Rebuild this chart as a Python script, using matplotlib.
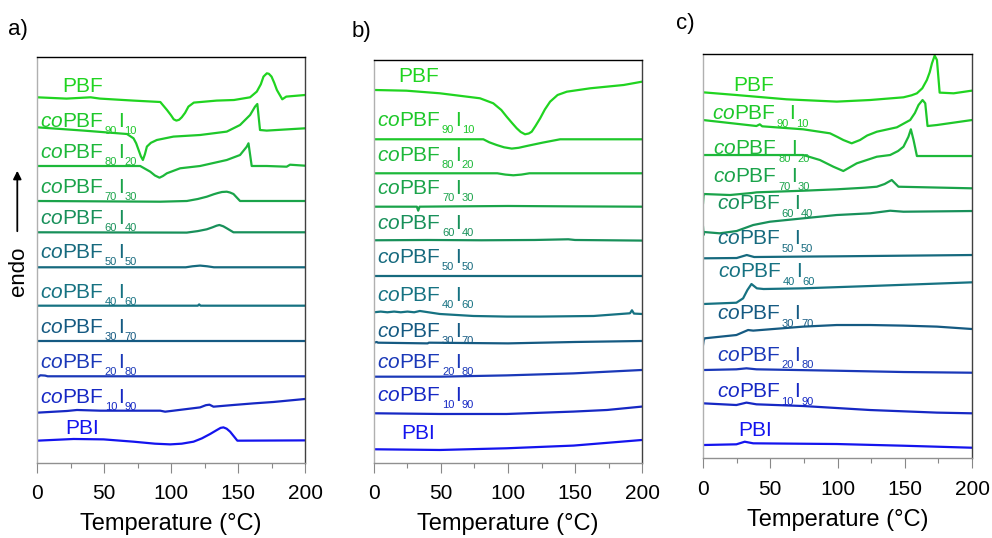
import matplotlib
matplotlib.use('Agg')
import matplotlib.pyplot as plt
from matplotlib.ticker import MultipleLocator

plt.rcParams['font.family'] = ['Liberation Sans', 'DejaVu Sans']
plt.rcParams['mathtext.fontset'] = 'custom'
plt.rcParams['mathtext.rm'] = 'Liberation Sans'
plt.rcParams['mathtext.it'] = 'Liberation Sans:italic'

# sample names, top to bottom
samples = ['PBF', '90/10', '80/20', '70/30', '60/40', '50/50',
           '40/60', '30/70', '20/80', '10/90', 'PBI']
colors = ['#20d420', '#1ec82a', '#1db83a', '#1aa34a', '#18905a', '#166a7e',
          '#167282', '#155a82', '#1a38b8', '#1628c4', '#1414ee']

# ---- panel a) : (temperature, heat flow) per sample, plus vertical offsets ----
a_curves = [
    ([0, 22, 40, 47, 72, 92, 97, 100, 102, 104, 106, 108, 110.5, 113, 117, 134, 147, 159, 164, 167, 169, 171.5, 173, 175, 177, 179, 183, 186, 200],
     [0, -1.3, 0, -1.3, -3.3, -4.7, -12.7, -18, -22, -23.3, -22.5, -20, -15.5, -9.3, -5.3, -3.3, -2.7, 0, 5.7, 13, 20.7, 24, 23.5, 20.7, 14.5, 7.3, -2, 0.7, 2.3]),
    ([0, 34.8, 67.1, 72, 74, 75.8, 77.5, 79, 80.5, 82, 85, 89.4, 101.8, 121.7, 141.6, 151.5, 159, 162.7, 164.4, 166.4, 171.4, 200],
     [0, -3.3, -6.7, -11, -16, -22.7, -29, -32.7, -27, -19.3, -15.5, -12.7, -9.3, -7.7, -4.3, 2.3, 12.3, 20.7, 23.3, -2.7, -3.3, -1]),
    ([0, 77, 84.5, 88, 91.4, 94, 96.9, 106.8, 121.7, 141.6, 151.5, 156.5, 157.8, 160.2, 171.4, 186.3, 188.8, 200],
     [0, 0, -5.7, -9.5, -11.7, -10, -7.3, -2.3, 0, 6, 11, 19.3, 22.7, 0, 0, -0.7, 1.3, 0.3]),
    ([0, 92, 111.8, 120, 126.7, 132, 135, 138, 141.6, 144, 146.6, 151.5, 200],
     [0, -0.7, 0, 2, 4.3, 6.8, 8, 9, 9.3, 8.5, 7, 0, 0]),
    ([0, 111.8, 120, 126.7, 131, 134, 136.1, 139, 141.6, 146.6, 200],
     [0, -0.3, 1.2, 3, 5, 6.6, 7.3, 6, 4, 0, 0]),
    ([0, 111, 116, 121.7, 127, 132, 200], [0, 0, 1, 1.7, 1, 0, 0]),
    ([0, 120, 121, 122, 200], [0, 0, 1.3, 0, 0]),
    ([0, 200], [0, 0]),
    ([0, 0.5, 2.5, 6, 8, 200], [0, -1, 1, 0.7, 0, 0]),
    ([0, 22.4, 29.8, 47.2, 91.9, 95.6, 101.8, 121.7, 126, 128.7, 131.7, 146.6, 161.5, 176.4, 200],
     [0, 1.7, 2.7, 2, 2, 1, 2, 5.3, 7.5, 8, 6, 7.7, 9.3, 10.7, 13.7]),
    ([0, 27.3, 49.7, 72, 88, 99.4, 108, 116.8, 123, 129.2, 134, 137, 139.1, 141.5, 144.1, 149.5, 200],
     [0, 1.7, 1.3, -1, -3, -3.7, -3, -1, 2.3, 6.7, 10.5, 12.8, 13.3, 12, 9, 0, 0.3]),
]
a_offsets = [365.4, 335.4, 296.7, 261.7, 230.4, 195.4, 157, 121.7, 86.4, 50, 22]
a_label_x = [18.7, 2.2, 2.2, 2.2, 2.2, 2.2, 2.2, 2.2, 2.2, 2.2, 20.9]
a_label_y = [371, 335.5, 305, 269.5, 238.5, 204.5, 165, 130, 95, 60, 29]

# ---- panel b) ----
b_curves = [
    ([0, 24.2, 49.1, 79.1, 89, 95, 99, 103, 106.5, 109.5, 112.7, 115.5, 117.7, 120.5, 124, 127.5, 131.4, 137, 143.9, 161.4, 186.3, 200],
     [0, -0.7, -3.3, -8.3, -13.3, -20, -26.7, -33, -38.3, -42, -44.3, -43.5, -41.7, -36, -28.3, -19.5, -11.7, -5, -1.7, 1.7, 5, 8.3]),
    ([0, 81.6, 86, 91.5, 97, 102.8, 108, 114, 126, 138.9, 200],
     [0, 0, -3, -5.7, -8, -9.3, -8.5, -6.7, -3.3, 0, 0]),
    ([0, 92, 98, 104, 110, 116, 200], [0, 0, -1.3, -2, -1.3, 0, 0]),
    ([0, 32, 33, 34, 60, 100, 150, 200], [0, 0, -4, 0, 0.3, 0.7, 0.3, 0]),
    ([0, 40, 80, 120, 145, 150, 200], [0, 0.3, 0, 0.3, 1, 0.3, -0.3]),
    ([0, 200], [0, 0]),
    ([0, 5, 10, 15, 20, 25, 30, 34.2, 49.1, 74.1, 99, 124, 163.9, 191, 192.5, 194, 200],
     [0, 0.7, 0, 0.7, 0, 0.7, 0, 1.3, -1.7, -3.7, -4.3, -4.3, -3.7, -1, 2, -1.3, -1.7]),
    ([0, 2, 3, 40, 41, 100, 150, 200], [0, 0.7, 0, -0.7, 0, -0.7, 0.7, 1.7]),
    ([0, 49.1, 99, 148.9, 200], [0, 0, 1.3, 3.3, 6.7]),
    ([0, 49.1, 99, 148.9, 173.9, 200], [0, -0.7, -0.7, 1.7, 3.3, 6.7]),
    ([0, 49.1, 99, 148.9, 200], [0, -0.7, 1, 3.7, 9.3]),
]
b_offsets = [372.7, 323.4, 289.4, 256, 222.4, 186.7, 150.4, 120, 86, 49.4, 13.4]
b_label_x = [17.9, 2.5, 2.5, 2.5, 2.5, 2.5, 2.5, 2.5, 2.5, 2.5, 20.7]
b_label_y = [381, 337, 302, 268.5, 234, 200, 162, 126, 95, 62, 23.5]

# ---- panel c) ----
c_curves = [
    ([0, 24.8, 62.1, 99.4, 124.2, 149, 155, 159, 163, 166.4, 168.5, 170.2, 172.2, 173.9, 175.9, 186.3, 200],
     [0, -2.7, -7, -9.3, -7.7, -5, -3, -1, 4, 12.3, 20, 29, 36.7, 32.3, -0.3, -1, 1.7]),
    ([0, 39.7, 42.2, 44, 74.5, 94.4, 100, 104.3, 110.5, 116.7, 122, 129.2, 144.1, 154, 157.5, 160.2, 163.2, 165.2, 166.9, 173.9, 200],
     [0, -6, -4.3, -6.3, -9.3, -13.3, -17, -20, -23.3, -20, -15.5, -11.7, -7.3, 0, 7, 15, 20, 16.7, -6, -5, 0]),
    ([0, 74.5, 86.9, 96.9, 104.3, 114.3, 129.2, 139.1, 145, 149, 152.7, 154.5, 156.5, 159, 200],
     [0, 0, -5, -11.7, -16, -8.3, -1.7, 0, 4, 8.3, 18.3, 25.7, 15, -1, -1]),
    ([0, 0.4, 0.8, 20, 36, 40, 74.5, 99.4, 120, 129.2, 135, 140.3, 145.3, 200],
     [-8, 0, 1, 0, 2, 2.7, 4.3, 5.7, 7.3, 8.3, 11, 15, 8.3, 6.7]),
    ([0, 0.4, 0.8, 12.4, 25, 37.3, 49.7, 74.5, 99.4, 124.2, 139.1, 149, 200],
     [5, -3, 0, -1.3, 1, 7, 10.3, 13.7, 17, 18.7, 21.3, 20.3, 21]),
    ([0, 25, 32.5, 38, 100, 200], [0, 0.3, 3.3, 1.3, 2, 3.3]),
    ([0, 24.8, 29.8, 33, 36, 40, 45, 74.5, 124.2, 200],
     [0, 1.3, 5.7, 14, 20, 15.7, 15, 15.7, 18, 21.7]),
    ([0, 0.5, 1.2, 24.8, 33.5, 37.3, 74.5, 99.4, 124.2, 149, 173.9, 200],
     [-6.7, -2, 0, 3.3, 8.3, 7.7, 11.7, 13.3, 13.3, 12.7, 11.7, 9.3]),
    ([0, 24.8, 32.3, 39.7, 99.4, 149, 200], [0, 0.7, 1.7, 0.7, -0.7, -2, -2.7]),
    ([0, 24.8, 32.3, 39.7, 74.5, 124.2, 173.9, 200], [0, -1.7, 0.7, -1, -2.7, -6.7, -9.3, -10]),
    ([0, 24.8, 31, 37.3, 99.4, 149, 200], [0, 0.7, 3.3, 1.7, 1, -0.7, -2.7]),
]
c_offsets = [366, 338.3, 303.3, 263.3, 226.3, 200, 154.3, 120, 88.3, 55, 13.3]
c_label_x = [22.5, 6.5, 7.7, 7.7, 10.2, 10.2, 11.4, 10.2, 10.2, 10.2, 26.3]
c_label_y = [367.5, 339, 304, 276, 249, 214, 181, 139, 97.5, 61, 22.5]


def draw_label(ax, x, y, name, color):
    if '/' not in name:
        ax.text(x, y, name, fontsize=15, color=color, va='baseline')
        return
    f, i = name.split('/')
    first = ax.text(x, y, r'$\mathit{co}$PBF', fontsize=15, color=color, va='baseline')
    prev = first
    for s, sub in [(f, True), ('I', False), (i, True)]:
        prev = ax.annotate(s, xy=(1, 0), xycoords=(prev, first),
                           xytext=(0.6, -3.8 if sub else 0),
                           textcoords='offset points', va='bottom', ha='left',
                           fontsize=8 if sub else 15, color=color)


fig = plt.figure(figsize=(9.92, 5.38), dpi=100)

panels = [
    ('a)', [0.0373, 0.140, 0.2702, 0.7546], 406, a_curves, a_offsets, a_label_x, a_label_y, (8, 30)),
    ('b)', [0.3770, 0.140, 0.2702, 0.7485], 402.7, b_curves, b_offsets, b_label_x, b_label_y, (352, 32)),
    ('c)', [0.7087, 0.1481, 0.2712, 0.7515], 404.3, c_curves, c_offsets, c_label_x, c_label_y, (676, 23)),
]

for tag, rect, top, curves, offs, lx, ly, tagpos in panels:
    ax = fig.add_axes(rect)
    for (T, q), off, col in zip(curves, offs, colors):
        ax.plot(T, [off + v for v in q], color=col, lw=1.6, solid_joinstyle='round')
    for name, x, y, col in zip(samples, lx, ly, colors):
        draw_label(ax, x, y, name, col)
    ax.set_xlim(0, 200)
    ax.set_ylim(0, top)
    ax.set_yticks([])
    ax.xaxis.set_major_locator(MultipleLocator(50))
    ax.xaxis.set_minor_locator(MultipleLocator(25))
    ax.tick_params(axis='x', which='major', length=7, width=0.8, color='#888888',
                   labelsize=15, pad=8.5)
    ax.tick_params(axis='x', which='minor', length=3.5, width=0.8, color='#888888')
    ax.spines['left'].set_color('#b0b0b0')
    ax.spines['bottom'].set_color('#909090')
    ax.spines['right'].set_color('#404040')
    ax.spines['top'].set_color('black')
    for sp in ax.spines.values():
        sp.set_linewidth(1.0)
    ax.set_xlabel('Temperature (°C)', fontsize=17, labelpad=7)
    fig.text(tagpos[0] / 992, 1 - tagpos[1] / 538, tag, fontsize=16, va='center', ha='left')

# endo arrow
fig.text(18.5 / 992, 1 - 271 / 538, 'endo', rotation=90, fontsize=16, va='center', ha='center')
fig.add_artist(matplotlib.patches.FancyArrowPatch(
    (17.3 / 992, 1 - 234 / 538), (17.3 / 992, 1 - 168 / 538),
    transform=fig.transFigure, arrowstyle='-|>', mutation_scale=12, color='black', lw=1.3))

fig.savefig('out.png', dpi=100)
